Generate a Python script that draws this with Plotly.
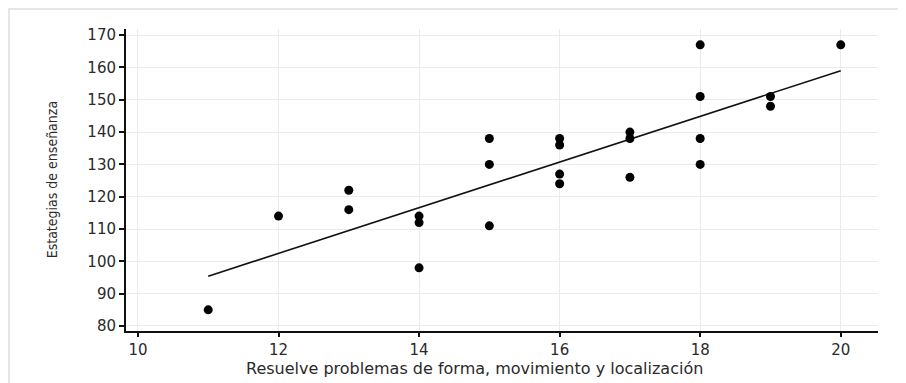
import plotly.graph_objects as go

# Data
x_vals = [11, 12, 13, 13, 14, 14, 14, 15, 15, 15, 16, 16, 16, 16,
          17, 17, 17, 18, 18, 18, 18, 19, 19, 20]
y_vals = [85, 114, 122, 116, 114, 112, 98, 138, 130, 111, 138, 136, 127, 124,
          140, 138, 126, 167, 151, 138, 130, 151, 148, 167]
fit_x = [11, 20]
fit_y = [95.4, 159.0]

x_title = "Resuelve problemas de forma, movimiento y localización"
y_title = "Estategias de enseñanza"

fig = go.Figure()
fig.add_trace(go.Scatter(x=fit_x, y=fit_y, mode="lines",
                         line=dict(color="#111111", width=1.6),
                         hoverinfo="skip", showlegend=False))
fig.add_trace(go.Scatter(x=x_vals, y=y_vals, mode="markers",
                         marker=dict(color="#000000", size=9, symbol="circle"),
                         showlegend=False))

tick_font = dict(family="DejaVu Sans", size=15, color="#2a2a2a")

fig.update_layout(
    width=898, height=375,
    margin=dict(l=118, r=28, t=21, b=52),
    paper_bgcolor="white", plot_bgcolor="white",
    showlegend=False,
    xaxis=dict(range=[9.83, 20.53], tickvals=[10, 12, 14, 16, 18, 20],
               showgrid=True, gridcolor="#ebebeb", gridwidth=1,
               zeroline=False, showline=True, linecolor="#111111", linewidth=2,
               ticks="outside", ticklen=4, tickwidth=1.5, tickcolor="#111111",
               tickfont=tick_font),
    yaxis=dict(range=[78.45, 171.9], tickvals=list(range(80, 171, 10)),
               showgrid=True, gridcolor="#ebebeb", gridwidth=1,
               zeroline=False, showline=True, linecolor="#111111", linewidth=2,
               ticks="outside", ticklen=5, tickwidth=1.5, tickcolor="#111111",
               tickfont=tick_font),
    shapes=[dict(type="rect", xref="paper", yref="paper",
                 x0=-0.1556, x1=1.05, y0=-0.2, y1=1.066,
                 line=dict(color="#e6e6e6", width=2), fillcolor="rgba(0,0,0,0)",
                 layer="below")],
    annotations=[
        dict(text=x_title, xref="paper", yref="paper", x=0.464, y=-0.125,
             xanchor="center", yanchor="middle", showarrow=False,
             font=dict(family="DejaVu Sans", size=16, color="#2a2a2a")),
        dict(text=y_title, xref="paper", yref="paper", x=-0.098, y=0.5,
             xanchor="center", yanchor="middle", showarrow=False, textangle=-90,
             font=dict(family="DejaVu Sans Condensed, Roboto Condensed, Roboto",
                       size=14, color="#2a2a2a")),
    ],
)

fig.write_html("out.html")
